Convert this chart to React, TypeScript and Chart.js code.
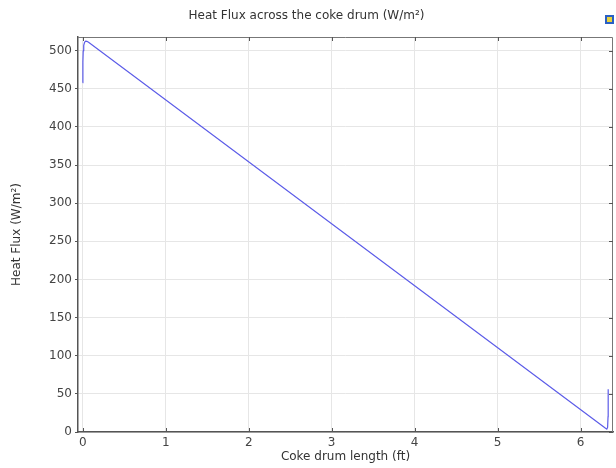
import React, { useEffect, useRef } from "react";
import { Chart, registerables } from "chart.js";

Chart.register(...registerables);

const lengthFt = [0, 0.002, 0.006, 0.012, 0.022, 0.035, 0.05, 0.07, 6.3, 6.315, 6.325, 6.33, 6.332];
const heatFlux = [458, 485, 500, 507, 511, 512.5, 512.3, 511, 4.8, 3.8, 6, 20, 56];
const xTicks = [0, 1, 2, 3, 4, 5, 6];
const yTicks = [0, 50, 100, 150, 200, 250, 300, 350, 400, 450, 500];

const FONT = "'DejaVu Sans', sans-serif";

const boxPlugin = {
  id: "boxPlugin",
  afterDraw(chart: any) {
    const { ctx, chartArea } = chart;
    const { left, right, top, bottom } = chartArea;
    const xs = chart.scales.x;
    const ys = chart.scales.y;
    ctx.save();
    ctx.strokeStyle = "#777";
    ctx.lineWidth = 1;
    ctx.beginPath();
    ctx.moveTo(left, top + 0.5);
    ctx.lineTo(right - 0.5, top + 0.5);
    ctx.lineTo(right - 0.5, bottom);
    ctx.stroke();
    // inner ticks on x (bottom/top) and right
    ctx.strokeStyle = "#555";
    ctx.beginPath();
    xTicks.forEach((v) => {
      const px = Math.round(xs.getPixelForValue(v)) + 0.5;
      ctx.moveTo(px, bottom);
      ctx.lineTo(px, bottom - 4);
      ctx.moveTo(px, top);
      ctx.lineTo(px, top + 4);
    });
    yTicks.forEach((v) => {
      const py = Math.round(ys.getPixelForValue(v)) + 0.5;
      ctx.moveTo(right, py);
      ctx.lineTo(right - 4, py);
    });
    ctx.stroke();
    // small icon top right
    ctx.fillStyle = "#2a5fc4";
    ctx.fillRect(605, 15, 9, 9);
    ctx.fillStyle = "#e8d23a";
    ctx.fillRect(607, 17, 5, 5);
    ctx.restore();
  },
};

export default function App() {
  const ref = useRef<HTMLCanvasElement>(null);
  useEffect(() => {
    document.body.style.margin = "0";
    const canvas = ref.current!;
    const chart = new Chart(canvas, {
      type: "line",
      data: {
        datasets: [
          {
            data: lengthFt.map((x, i) => ({ x, y: heatFlux[i] })),
            borderColor: "#5c5ce8",
            borderWidth: 1.2,
            pointRadius: 0,
            fill: false,
            tension: 0,
          },
        ],
      },
      options: {
        animation: false,
        responsive: false,
        maintainAspectRatio: false,
        layout: { padding: { left: 0, right: 3, top: 0, bottom: 0 } },
        plugins: {
          legend: { display: false },
          tooltip: { enabled: false },
          title: {
            display: true,
            text: "Heat Flux across the coke drum (W/m²)",
            color: "#333",
            font: { family: FONT, size: 12, weight: "normal" },
            padding: { top: 9, bottom: 13.6 },
          },
        },
        scales: {
          x: {
            type: "linear",
            min: -0.057,
            max: 6.39,
            afterFit: (s: any) => {
              s.height = 36;
            },
            afterBuildTicks: (s: any) => {
              s.ticks = xTicks.map((v) => ({ value: v }));
            },
            grid: {
              color: "#e6e6e6",
              drawTicks: false,
            },
            border: { color: "#555", width: 1.5 },
            ticks: {
              color: "#444",
              font: { family: FONT, size: 12 },
              padding: 4,
              maxRotation: 0,
            },
            title: {
              display: true,
              text: "Coke drum length (ft)",
              color: "#333",
              font: { family: FONT, size: 12 },
              padding: { top: 4, bottom: 4 },
            },
          },
          y: {
            type: "linear",
            min: 0,
            max: 518,
            afterFit: (s: any) => {
              s.width = 78;
            },
            afterBuildTicks: (s: any) => {
              s.ticks = yTicks.map((v) => ({ value: v }));
            },
            grid: {
              color: "#e6e6e6",
              drawTicks: true,
              tickLength: 3,
              tickColor: "#555",
            },
            border: { color: "#555", width: 1.5 },
            ticks: {
              color: "#444",
              font: { family: FONT, size: 12 },
              padding: 3,
            },
            title: {
              display: true,
              text: "Heat Flux (W/m²)",
              color: "#333",
              font: { family: FONT, size: 12 },
              padding: { top: 10, bottom: 10 },
            },
          },
        },
      },
      plugins: [boxPlugin],
    });
    return () => chart.destroy();
  }, []);
  return <canvas ref={ref} width={616} height={468} style={{ display: "block" }} />;
}
